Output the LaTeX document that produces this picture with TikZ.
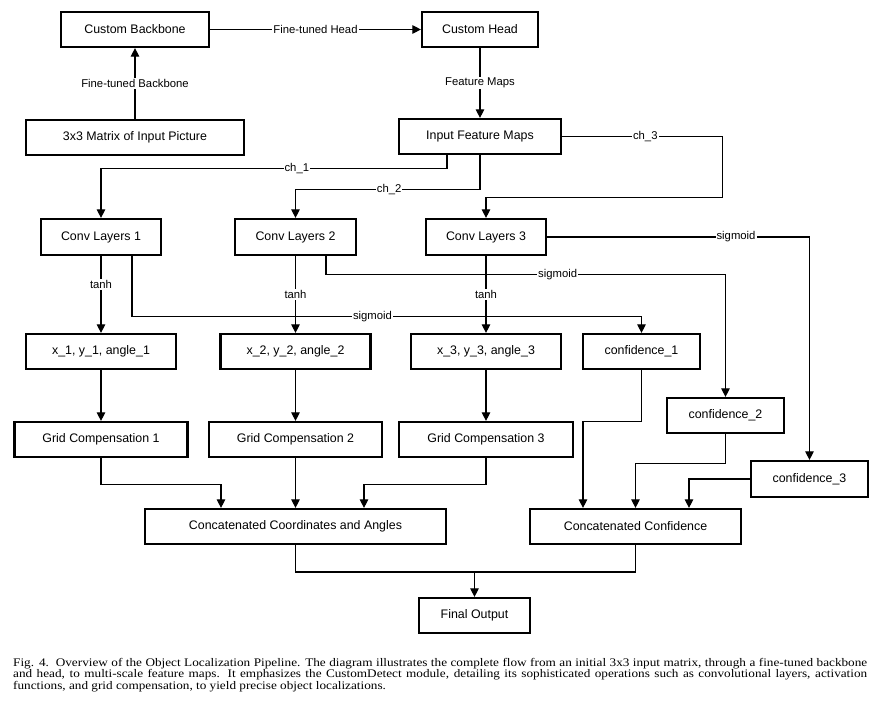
\documentclass[tikz,border=0pt]{standalone}
\usepackage{fontspec}
\setmainfont{Liberation Sans}
\newfontfamily\capfont[FakeStretch=1.14]{Liberation Serif}
\usetikzlibrary{arrows.meta}
\begin{document}
\begin{tikzpicture}[x=1pt,y=-1pt]
\tikzset{
 box/.style={draw, line width=2.2pt, inner sep=0pt, minimum height=35, font=\fontsize{12.4}{14}\selectfont},
 conn/.style={line width=1.1pt},
 arr/.style={conn, -{Triangle[length=8.5pt,width=8.5pt]}},
 lbl/.style={fill=white, inner sep=1pt, font=\fontsize{11.3}{13}\selectfont},
 captext/.style={anchor=base west, inner sep=0pt, font=\capfont\fontsize{11.6}{11.6}\selectfont},
}
\useasboundingbox (0,0) rectangle (887,709);
\fill[white] (0,0) rectangle (887,709);

\node[box, minimum width=148] (cb) at (135,29.5) {Custom Backbone};
\node[box, minimum width=116] (chd) at (480,29.5) {Custom Head};
\node[box, minimum width=218] (mat) at (135,137.5) {3x3 Matrix of Input Picture};
\node[box, minimum width=162] (ifm) at (480,136.5) {Input Feature Maps};
\node[box, minimum width=120, minimum height=36] (cl1) at (101,237) {Conv Layers 1};
\node[box, minimum width=121, minimum height=36] (cl2) at (295.5,237) {Conv Layers 2};
\node[box, minimum width=120, minimum height=36] (cl3) at (486,237) {Conv Layers 3};
\node[box, minimum width=150] (xy1) at (101,351.5) {x\_1, y\_1, angle\_1};
\node[box, minimum width=150] (xy2) at (295.5,351.5) {x\_2, y\_2, angle\_2};
\node[box, minimum width=150] (xy3) at (486,351.5) {x\_3, y\_3, angle\_3};
\node[box, minimum width=117] (cf1) at (641.5,351.5) {confidence\_1};
\node[box, minimum width=117] (cf2) at (725.5,415.5) {confidence\_2};
\node[box, minimum width=117, minimum height=36] (cf3) at (809.5,479) {confidence\_3};
\node[box, minimum width=173] (gc1) at (101,439.5) {Grid Compensation 1};
\node[box, minimum width=173] (gc2) at (295.5,439.5) {Grid Compensation 2};
\node[box, minimum width=174] (gc3) at (486,439.5) {Grid Compensation 3};
\node[box, minimum width=301] (cca) at (295.5,526.5) {Concatenated Coordinates and Angles};
\node[box, minimum width=211] (ccf) at (635.5,526.5) {Concatenated Confidence};
\node[box, minimum width=111] (fo) at (474.5,615.5) {Final Output};

\draw[arr] (mat) -- node[lbl]{Fine-tuned Backbone} (cb);
\draw[arr] (cb) -- node[lbl]{Fine-tuned Head} (chd);
\draw[arr] (chd) -- node[lbl]{Feature Maps} (ifm);
\draw[arr] ([xshift=-33]ifm.south) -- ++(0,13) -| node[lbl,pos=0.217]{ch\_1} (cl1.north);
\draw[arr] (ifm.south) -- ++(0,34) -| node[lbl,pos=0.246]{ch\_2} (cl2.north);
\draw[arr] (ifm.east) -- node[lbl,pos=0.52]{ch\_3} ++(160,0) |- ([yshift=20]cl3.north) -- (cl3.north);

\draw[arr] (cl1) -- node[lbl,pos=0.37]{tanh} (xy1);
\draw[arr] (cl2) -- node[lbl]{tanh} (xy2);
\draw[arr] (cl3) -- node[lbl]{tanh} (xy3);
\draw[arr] ([xshift=31]cl1.south) -- ++(0,60) -| node[lbl,pos=0.236]{sigmoid} (cf1.north);
\draw[arr] ([xshift=30.5]cl2.south) -- ++(0,18) -| node[lbl,pos=0.29]{sigmoid} (cf2.north);
\draw[arr] (cl3.east) -| node[lbl,pos=0.36]{sigmoid} (cf3.north);

\draw[arr] (xy1) -- (gc1);
\draw[arr] (xy2) -- (gc2);
\draw[arr] (xy3) -- (gc3);
\draw[arr] (gc1.south) -- ++(0,26) -| ([xshift=-74.5]cca.north);
\draw[arr] (gc2) -- (cca);
\draw[arr] (gc3.south) -- ++(0,26) -| ([xshift=68.5]cca.north);
\draw[arr] (cf1.south) -- ++(0,51) -| ([xshift=-52.5]ccf.north);
\draw[arr] (cf2.south) -- ++(0,29) -| (ccf.north);
\draw[arr] (cf3.west) -| ([xshift=53.5]ccf.north);
\coordinate (j) at (474.5,572);
\draw[conn] (cca.south) |- (j) -| (ccf.south);
\draw[arr] (j) -- (fo);

\node[captext] (cap1) at (13,666) {\makebox[854pt][s]{Fig. 4.\ \ Overview of the Object Localization Pipeline. The diagram illustrates the complete flow from an initial 3x3 input matrix, through a fine-tuned backbone}};
\node[captext] (cap2) at (13,677.5) {\makebox[854pt][s]{and head, to multi-scale feature maps. It emphasizes the CustomDetect module, detailing its sophisticated operations such as convolutional layers, activation}};
\node[captext] (cap3) at (13,689) {functions, and grid compensation, to yield precise object localizations.};
\end{tikzpicture}
\end{document}
